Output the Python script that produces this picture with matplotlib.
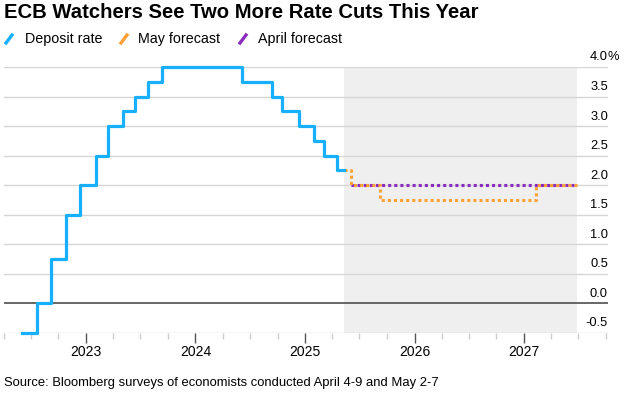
import matplotlib
matplotlib.use('Agg')
import matplotlib.pyplot as plt
import matplotlib.dates as mdates
import matplotlib.transforms as mtransforms
from matplotlib.lines import Line2D
import numpy as np
from datetime import date

# Data
deposit_dates = ['2022-06-01', '2022-07-21', '2022-09-07', '2022-10-28', '2022-12-13',
                 '2023-02-02', '2023-03-15', '2023-05-03', '2023-06-14', '2023-07-27',
                 '2023-09-12', '2024-06-05', '2024-09-11', '2024-10-16', '2024-12-11',
                 '2025-01-30', '2025-03-06', '2025-04-17', '2025-05-11']
deposit_rates = [-0.5, 0.0, 0.75, 1.5, 2.0,
                 2.5, 3.0, 3.25, 3.5, 3.75,
                 4.0, 3.75, 3.5, 3.25, 3.0,
                 2.75, 2.5, 2.25, 2.25]

may_dates = ['2025-05-11', '2025-06-02', '2025-09-08', '2027-02-11', '2027-06-28']
may_rates = [2.25, 2.0, 1.75, 2.0, 2.0]

april_dates = ['2025-06-02', '2027-06-28']
april_rates = [2.0, 2.0]

forecast_start = '2025-05-11'
forecast_end = '2027-06-28'

years = [2023, 2024, 2025, 2026, 2027]
y_levels = [-0.5, 0.0, 0.5, 1.0, 1.5, 2.0, 2.5, 3.0, 3.5, 4.0]

title = 'ECB Watchers See Two More Rate Cuts This Year'
source = 'Source: Bloomberg surveys of economists conducted April 4-9 and May 2-7'

blue = '#17b0ff'
orange = '#ffa033'
purple = '#8a2cc0'

plt.rcParams['font.family'] = ['Liberation Sans', 'DejaVu Sans']

W, H = 625, 396
fig = plt.figure(figsize=(W / 100, H / 100), dpi=100)
ax = fig.add_axes([3.5 / W, 1 - 332.7 / H, (608 - 3.5) / W, (332.7 - 67) / H])


def d(s):
    return mdates.date2num(np.datetime64(s))


ax.set_xlim(d('2022-04-27'), d('2027-10-08'))
ax.set_ylim(-0.5, 4.0)

# forecast shading
ax.axvspan(d(forecast_start), d(forecast_end), color='#efefef', zorder=0, lw=0)

# gridlines
for lv in y_levels:
    if lv == 0:
        ax.axhline(lv, color='#666666', lw=1.4, zorder=1)
    else:
        ax.axhline(lv, color='#d6d6d6', lw=1.0, zorder=1)

ax.step([d(x) for x in april_dates], april_rates, where='post', color=purple,
        lw=2.2, linestyle=(0, (1, 1)), zorder=3, clip_on=False)
ax.step([d(x) for x in may_dates], may_rates, where='post', color=orange,
        lw=2.2, linestyle=(0, (1, 1)), zorder=4, clip_on=False)
ax.step([d(x) for x in deposit_dates], deposit_rates, where='post', color=blue,
        lw=2.3, zorder=5, clip_on=False)

for s in ax.spines.values():
    s.set_visible(False)

# x ticks
ax.set_xticks([mdates.date2num(date(y, 1, 1)) for y in years])
ax.set_xticklabels([str(y) for y in years])
minor = []
for y in range(2022, 2028):
    for m in (4, 7, 10):
        minor.append(mdates.date2num(date(y, m, 1)))
ax.set_xticks(minor, minor=True)
ax.tick_params(axis='x', which='major', length=7, width=1, color='#555555',
               labelsize=10, pad=2, labelcolor='black')
ax.tick_params(axis='x', which='minor', length=4, width=1, color='#cccccc')
ax.set_yticks([])

# y labels on the right, sitting above the gridlines
trans = mtransforms.blended_transform_factory(ax.transAxes, ax.transData)
off = mtransforms.offset_copy(trans, fig=fig, x=0, y=6.5, units='dots')
for lv in y_levels:
    ax.text(1.0, lv, f'{lv:.1f}', transform=off, ha='right',
            va='baseline', fontsize=9.3, color='black')
ax.text(1.0, 4.0, '%', transform=off, ha='left', va='baseline', fontsize=9.3)

# title and legend
fig.text(4 / W, 1 - 17.5 / H, title, fontsize=14.6, fontweight='bold',
         va='baseline', ha='left')
legend = [(6, 25, blue, 'Deposit rate'),
          (121, 138, orange, 'May forecast'),
          (240, 258, purple, 'April forecast')]
for sx, tx, col, lab in legend:
    fig.add_artist(Line2D([sx / W, (sx + 6) / W], [1 - 43 / H, 1 - 35 / H],
                          color=col, lw=2.4, transform=fig.transFigure))
    fig.text(tx / W, 1 - 43.5 / H, lab, fontsize=10.3, va='baseline', ha='left')

fig.text(4 / W, 1 - 383 / H, source, fontsize=9.4, va='center', ha='left')

fig.savefig('out.png', dpi=100)
